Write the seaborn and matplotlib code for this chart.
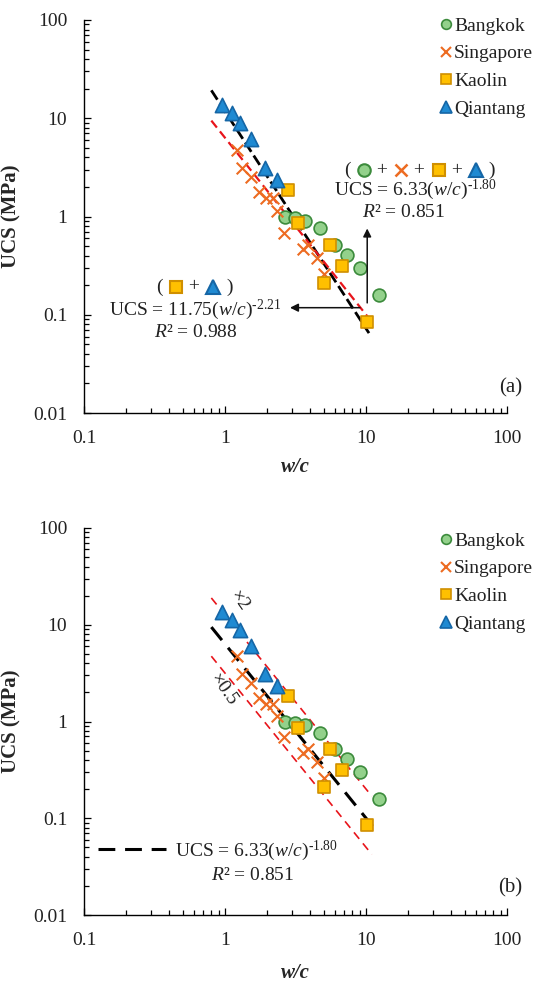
import numpy as np
import pandas as pd
import matplotlib
matplotlib.use("Agg")
import matplotlib.pyplot as plt
import seaborn as sns
from matplotlib.lines import Line2D
from matplotlib.offsetbox import TextArea, DrawingArea, HPacker, AnnotationBbox
from matplotlib.ticker import LogLocator, FixedLocator, FixedFormatter, NullFormatter

# ---------------- data ----------------
bangkok_wc = [2.66, 3.14, 3.69, 4.72, 6.03, 7.33, 9.06, 12.4]
bangkok_ucs = [1.00, 0.955, 0.91, 0.755, 0.518, 0.41, 0.302, 0.16]
singapore_wc = [1.22, 1.32, 1.53, 1.74, 1.95, 2.19, 2.34, 2.62, 3.57, 3.88, 4.49, 5.04]
singapore_ucs = [4.71, 3.09, 2.50, 1.76, 1.53, 1.53, 1.15, 0.687, 0.471, 0.518, 0.382, 0.262]
kaolin_wc = [2.80, 3.29, 5.55, 6.76, 5.04, 10.2]
kaolin_ucs = [1.84, 0.85, 0.518, 0.316, 0.212, 0.085]
qiantang_wc = [0.953, 1.12, 1.28, 1.53, 1.92, 2.34]
qiantang_ucs = [13.6, 11.2, 8.9, 6.1, 3.09, 2.33]

fit_all = (6.33, -1.80, 0.851)
fit_kq = (11.75, -2.21, 0.988)
fit_range_a = [0.8, 10.5]
fit_range_b = [0.8, 11.5]

x_ticks = [0.1, 1, 10, 100]
x_ticklabels = ["0.1", "1", "10", "100"]
y_ticks = [0.01, 0.1, 1, 10, 100]
y_ticklabels = ["0.01", "0.1", "1", "10", "100"]

# ---------------- style ----------------
sns.set_style("ticks")
plt.rcParams["font.family"] = ["Liberation Serif", "DejaVu Sans"]
plt.rcParams["mathtext.fontset"] = "custom"
plt.rcParams["mathtext.rm"] = "Liberation Serif"
plt.rcParams["mathtext.it"] = "Liberation Serif:italic"
plt.rcParams["mathtext.bf"] = "Liberation Serif:bold"
FS = 14
TXT = "#222222"

styles = {
    "Bangkok": dict(marker="o", fc="#93d18b", ec="#3c8b3c", s=85, lw=1.2),
    "Singapore": dict(marker="x", fc="#ed6b21", ec="#ed6b21", s=70, lw=1.5),
    "Kaolin": dict(marker="s", fc="#ffc000", ec="#d08f00", s=80, lw=1.2),
    "Qiantang": dict(marker="^", fc="#1f8ad2", ec="#1566a6", s=105, lw=1.2),
}
series = {
    "Bangkok": (bangkok_wc, bangkok_ucs),
    "Singapore": (singapore_wc, singapore_ucs),
    "Kaolin": (kaolin_wc, kaolin_ucs),
    "Qiantang": (qiantang_wc, qiantang_ucs),
}

W, H = 535, 983
fig = plt.figure(figsize=(W / 100, H / 100), dpi=100)


def px_axes(l, t, r, b):
    return fig.add_axes([l / W, 1 - b / H, (r - l) / W, (b - t) / H])


def setup(ax, xlab_y):
    ax.set_xscale("log")
    ax.set_yscale("log")
    ax.set_xlim(0.1, 100)
    ax.set_ylim(0.01, 100)
    sns.despine(ax=ax)
    for sp in ("left", "bottom"):
        ax.spines[sp].set_color("black")
        ax.spines[sp].set_linewidth(1.0)
    ax.xaxis.set_major_locator(FixedLocator(x_ticks))
    ax.xaxis.set_major_formatter(FixedFormatter(x_ticklabels))
    ax.yaxis.set_major_locator(FixedLocator(y_ticks))
    ax.yaxis.set_major_formatter(FixedFormatter(y_ticklabels))
    ax.xaxis.set_minor_locator(LogLocator(base=10, subs=np.arange(2, 10), numticks=20))
    ax.yaxis.set_minor_locator(LogLocator(base=10, subs=np.arange(2, 10), numticks=20))
    ax.xaxis.set_minor_formatter(NullFormatter())
    ax.yaxis.set_minor_formatter(NullFormatter())
    ax.tick_params(which="both", direction="in", color="black", width=0.9, labelsize=FS,
                   labelcolor=TXT)
    ax.tick_params(which="major", length=5)
    ax.tick_params(which="minor", length=3.5)
    ax.tick_params(axis="x", which="major", pad=12)
    ax.tick_params(axis="y", which="major", pad=12)
    ax.set_xlabel("w/c", fontsize=15, fontweight="bold", fontstyle="italic")
    ax.set_ylabel("UCS (MPa)", fontsize=15, fontweight="bold")
    ax.yaxis.set_label_coords(-0.147, 0.5)
    ax.xaxis.set_label_coords(0.5, xlab_y)


def draw_points(ax):
    for name, (xv, yv) in series.items():
        st = styles[name]
        df = pd.DataFrame({"wc": xv, "ucs": yv})
        if st["marker"] == "x":
            sns.scatterplot(data=df, x="wc", y="ucs", ax=ax, marker="x", s=st["s"],
                            color=st["fc"], linewidth=st["lw"], zorder=3, legend=False)
        else:
            sns.scatterplot(data=df, x="wc", y="ucs", ax=ax, marker=st["marker"], s=st["s"],
                            color=st["fc"], edgecolor=st["ec"], linewidth=st["lw"],
                            zorder=3, legend=False)


def fit_line(ax, a, b, rng, factor=1.0, **kw):
    xs = np.geomspace(rng[0], rng[1], 30)
    df = pd.DataFrame({"wc": xs, "ucs": factor * a * xs ** b})
    sns.lineplot(data=df, x="wc", y="ucs", ax=ax, legend=False, sort=False, **kw)


def marker_legend(top_px):
    handles = []
    for name in series:
        st = styles[name]
        ms = {"o": 7, "x": 7, "s": 7, "^": 8}[st["marker"]]
        handles.append(Line2D([], [], linestyle="none", marker=st["marker"], markersize=ms,
                              markerfacecolor=st["fc"], markeredgecolor=st["ec"],
                              markeredgewidth=st["lw"], label=name))
    leg = fig.legend(handles=handles, loc="upper left", bbox_to_anchor=(440 / W, 1 - top_px / H),
                     frameon=False, fontsize=FS, handlelength=0.6, handletextpad=0.12,
                     labelspacing=0.52, borderpad=0, borderaxespad=0)
    for t in leg.get_texts():
        t.set_color(TXT)


def marker_da(name):
    st = styles[name]
    ms = {"o": 9, "x": 8, "s": 9, "^": 10}[st["marker"]]
    da = DrawingArea(12, 12, 0, 0)
    da.add_artist(Line2D([6], [6], linestyle="none", marker=st["marker"], markersize=ms,
                         markerfacecolor=st["fc"], markeredgecolor=st["ec"],
                         markeredgewidth=st["lw"] + 0.3))
    return da


def header(ax, names, xy):
    tp = dict(fontsize=FS, color=TXT)
    children = [TextArea("(", textprops=tp)]
    for i, n in enumerate(names):
        children.append(TextArea(" " if i == 0 else " + ", textprops=tp))
        children.append(marker_da(n))
    children.append(TextArea(" )", textprops=tp))
    box = HPacker(children=children, align="center", pad=0, sep=0)
    ab = AnnotationBbox(box, xy, xycoords="axes fraction", frameon=False,
                        box_alignment=(0.5, 0.5))
    ax.add_artist(ab)


def eq_text(a, b):
    return r"UCS = %.2f($\mathit{w/c}$)$^{\text{%.2f}}$" % (a, b)


def r2_text(r2):
    return r"$\mathit{R}$² = %.3f" % r2


# ---------------- panel (a) ----------------
ax1 = px_axes(84, 20, 507, 413)
setup(ax1, -0.113)
fit_line(ax1, fit_kq[0], fit_kq[1], fit_range_a, color="black", linewidth=2.0, dashes=(4.0, 1.6))
fit_line(ax1, fit_all[0], fit_all[1], [0.8, 11.0], color="#e8141b", linewidth=1.6,
         dashes=(4.0, 2.2))
draw_points(ax1)
marker_legend(17)

header(ax1, ["Bangkok", "Singapore", "Kaolin", "Qiantang"], (0.794, 0.618))
ax1.text(0.783, 0.567, eq_text(*fit_all[:2]), transform=ax1.transAxes, ha="center",
         va="center", fontsize=FS, color=TXT)
ax1.text(0.757, 0.511, r2_text(fit_all[2]), transform=ax1.transAxes, ha="center",
         va="center", fontsize=FS, color=TXT)
header(ax1, ["Kaolin", "Qiantang"], (0.262, 0.321))
ax1.text(0.262, 0.262, eq_text(*fit_kq[:2]), transform=ax1.transAxes, ha="center",
         va="center", fontsize=FS, color=TXT)
ax1.text(0.265, 0.204, r2_text(fit_kq[2]), transform=ax1.transAxes, ha="center",
         va="center", fontsize=FS, color=TXT)
arrow = dict(arrowstyle="-|>", color="#111111", lw=1.1, mutation_scale=12, shrinkA=0, shrinkB=0)
ax1.annotate("", xy=(10.2, 0.755), xytext=(10.2, 0.132), arrowprops=arrow)
ax1.annotate("", xy=(2.89, 0.118), xytext=(9.06, 0.118), arrowprops=arrow)
fig.text(522 / W, 1 - 388 / H, "(a)", ha="right", va="center", fontsize=15, color=TXT)

# ---------------- panel (b) ----------------
ax2 = px_axes(84, 528, 507, 915)
setup(ax2, -0.125)
fit_line(ax2, fit_all[0], fit_all[1], [0.8, 11.0], factor=2.0, color="#e8141b", linewidth=1.2,
         dashes=(5, 3.5))
fit_line(ax2, fit_all[0], fit_all[1], [0.8, 11.0], factor=0.5, color="#e8141b", linewidth=1.2,
         dashes=(5, 3.5))
fit_line(ax2, fit_all[0], fit_all[1], fit_range_b, color="black", linewidth=2.2,
         dashes=(5.5, 3.2))
draw_points(ax2)
marker_legend(532)
ax2.text(1.256, 17.7, "×2", rotation=-55, ha="center", va="center", fontsize=FS,
         color=TXT, rotation_mode="anchor")
ax2.text(0.968, 2.14, "×0.5", rotation=-55, ha="center", va="center", fontsize=FS,
         color=TXT, rotation_mode="anchor")

fit_handle = Line2D([], [], color="black", linewidth=2.2, dashes=(5.5, 3.2))
leg = ax2.legend(handles=[fit_handle], labels=[eq_text(*fit_all[:2])], loc="center left",
                 bbox_to_anchor=(98 / W, 1 - 851 / H), bbox_transform=fig.transFigure,
                 frameon=False, fontsize=FS, handlelength=3.5, handletextpad=0.45,
                 borderpad=0, borderaxespad=0)
for t in leg.get_texts():
    t.set_color(TXT)
fig.text(253 / W, 1 - 876 / H, r2_text(fit_all[2]), ha="center", va="center", fontsize=FS,
         color=TXT)
fig.text(522 / W, 1 - 888 / H, "(b)", ha="right", va="center", fontsize=15, color=TXT)

fig.savefig("out.png", dpi=100)
